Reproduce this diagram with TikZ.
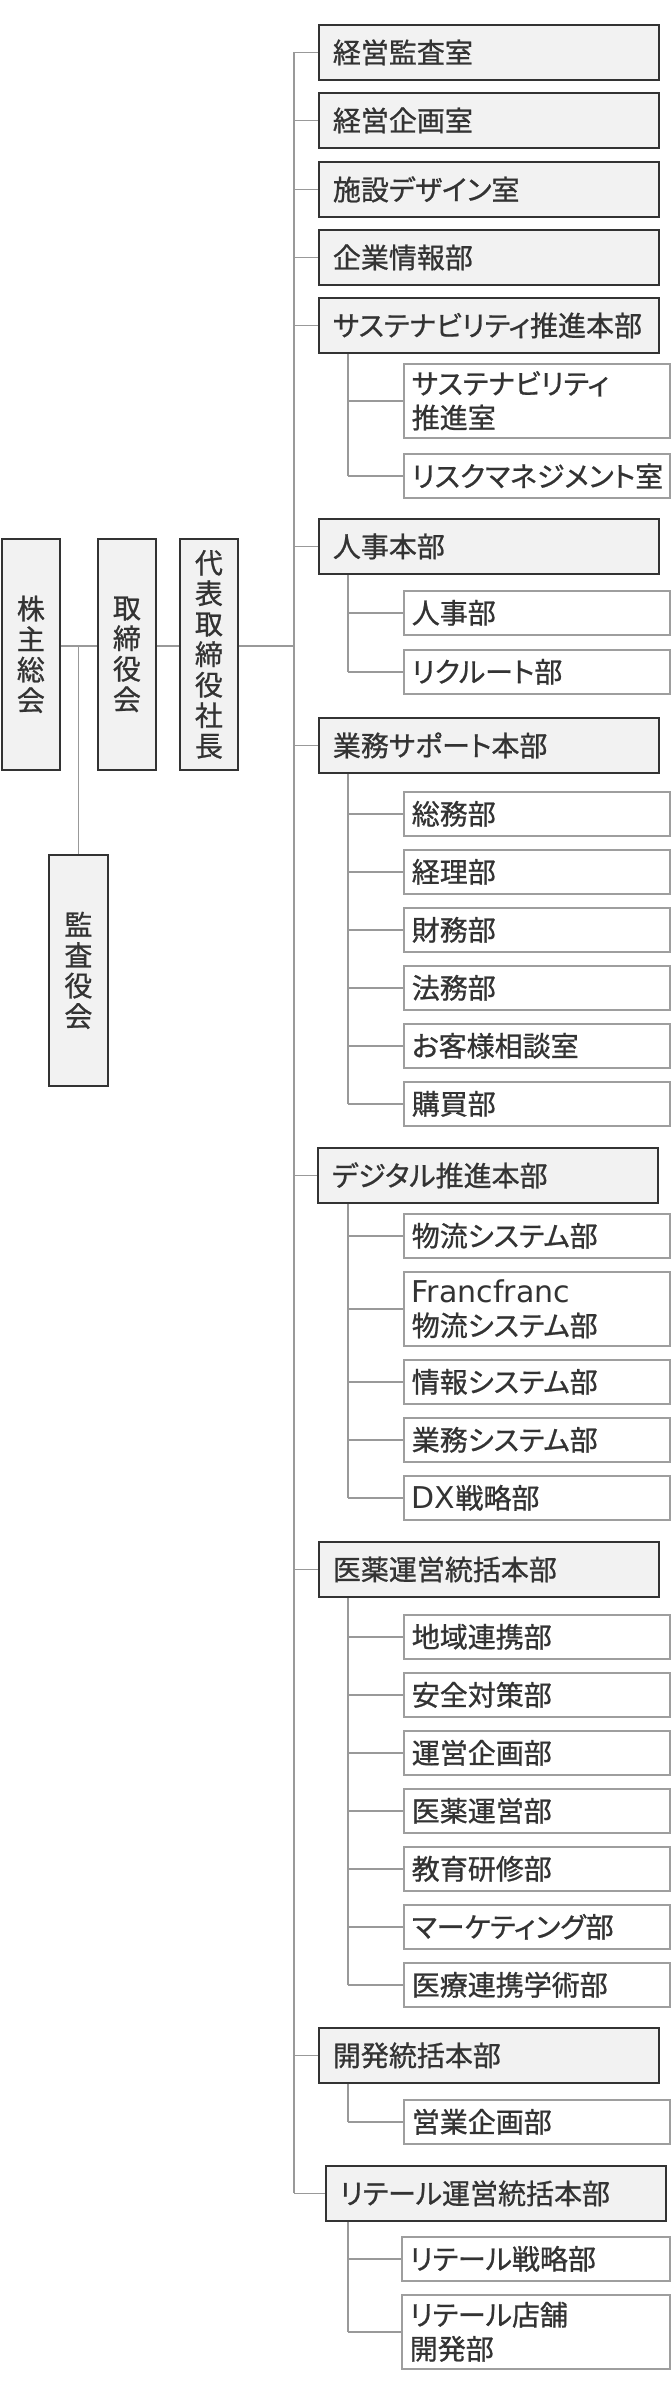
\documentclass[tikz,border=0pt]{standalone}
\usepackage{fontspec}
\newfontfamily\jp[RawFeature=+palt, FakeBold=0.8]{Noto Sans CJK JP}
\newfontfamily\lat{DejaVu Sans}
\newcommand{\latin}[1]{{\lat\fontsize{30}{34}\selectfont #1}}
\definecolor{ink}{HTML}{333333}
\definecolor{boxfill}{HTML}{F2F2F2}
\definecolor{linegray}{HTML}{999999}
\definecolor{subedge}{HTML}{9E9E9E}
\tikzset{
 base/.style={anchor=north west, inner ysep=0pt, text=ink, font=\jp\fontsize{28}{34}\selectfont},
 mainbox/.style={base, draw=ink, line width=1.8pt, fill=boxfill, inner xsep=14pt, text width=312pt, minimum height=55pt, align=left},
 subbox/.style={base, draw=subedge, line width=1.6pt, fill=white, inner xsep=8pt, text width=250pt, minimum height=44pt, align=left},
 tallsub/.style={subbox, minimum height=74pt},
 vbox/.style={base, draw=ink, line width=1.8pt, fill=boxfill, inner xsep=0pt, text width=58pt, minimum height=231pt, align=center, font=\jp\fontsize{28}{30.5}\selectfont},
 conn/.style={draw=linegray, line width=1.5pt},
}
\begin{document}
\begin{tikzpicture}[x=1pt,y=-1pt]
\useasboundingbox (0,0) rectangle (670,2400);
\fill[white] (0,0) rectangle (670,2400);
\coordinate (tr) at (294,0);
\coordinate (st) at (348,0);
\coordinate (cy) at (0,646);
% left column
\node[vbox] (kabu) at (1,538) {株\\主\\総\\会};
\node[vbox] (tori) at (97,538) {取\\締\\役\\会};
\node[vbox] (ceo) at (179,538) {代\\表\\取\\締\\役\\社\\長};
\node[vbox, text width=59pt] (kansa) at (48,854) {監\\査\\役\\会};
% main boxes
\node[mainbox] (m1) at (318,24) {経営監査室};
\node[mainbox] (m2) at (318,92) {経営企画室};
\node[mainbox] (m3) at (318,161) {施設デザイン室};
\node[mainbox] (m4) at (318,229) {企業情報部};
\node[mainbox] (m5) at (318,297) {サステナビリティ推進本部};
\node[tallsub] (s5a) at (403,363) {サステナビリティ\\推進室};
\node[subbox] (s5b) at (403,453) {リスクマネジメント室};
\node[mainbox] (m6) at (318,518) {人事本部};
\node[subbox] (s6a) at (403,590) {人事部};
\node[subbox] (s6b) at (403,649) {リクルート部};
\node[mainbox] (m7) at (318,717) {業務サポート本部};
\node[subbox] (s7a) at (403,791) {総務部};
\node[subbox] (s7b) at (403,849) {経理部};
\node[subbox] (s7c) at (403,907) {財務部};
\node[subbox] (s7d) at (403,965) {法務部};
\node[subbox] (s7e) at (403,1023) {お客様相談室};
\node[subbox] (s7f) at (403,1081) {購買部};
\node[mainbox] (m8) at (317,1147) {デジタル推進本部};
\node[subbox] (s8a) at (403,1213) {物流システム部};
\node[tallsub] (s8b) at (403,1271) {\latin{Francfranc}\\物流システム部};
\node[subbox] (s8c) at (403,1359) {情報システム部};
\node[subbox] (s8d) at (403,1417) {業務システム部};
\node[subbox] (s8e) at (403,1475) {\latin{DX}戦略部};
\node[mainbox] (m9) at (318,1541) {医薬運営統括本部};
\node[subbox] (s9a) at (403,1614) {地域連携部};
\node[subbox] (s9b) at (403,1672) {安全対策部};
\node[subbox] (s9c) at (403,1730) {運営企画部};
\node[subbox] (s9d) at (403,1788) {医薬運営部};
\node[subbox] (s9e) at (403,1846) {教育研修部};
\node[subbox] (s9f) at (403,1904) {マーケティング部};
\node[subbox] (s9g) at (403,1962) {医療連携学術部};
\node[mainbox] (m10) at (318,2027) {開発統括本部};
\node[subbox] (s10a) at (403,2099) {営業企画部};
\node[mainbox] (m11) at (325,2165) {リテール運営統括本部};
\node[subbox, text width=252pt] (s11a) at (401,2236) {リテール戦略部};
\node[tallsub, text width=252pt] (s11b) at (401,2294) {リテール店舗\\開発部};
% left connectors
\draw[conn] (kabu.east |- cy) -- (tori.west |- cy);
\draw[conn] (tori.east |- cy) -- (ceo.west |- cy);
\draw[conn] (ceo.east |- cy) -- (tr |- cy);
\draw[conn] (kansa.north |- cy) -- (kansa.north);
% trunk
\draw[conn] (tr |- m1.west) -- (tr |- m11.west);
\foreach \m in {m1,m2,m3,m4,m5,m6,m7,m8,m9,m10,m11}
  \draw[conn] (tr |- \m.west) -- (\m.west);
% sub trunks
\draw[conn] (st |- m5.south) -- (st |- s5b.west);
\foreach \s in {s5a,s5b} \draw[conn] (st |- \s.west) -- (\s.west);
\draw[conn] (st |- m6.south) -- (st |- s6b.west);
\foreach \s in {s6a,s6b} \draw[conn] (st |- \s.west) -- (\s.west);
\draw[conn] (st |- m7.south) -- (st |- s7f.west);
\foreach \s in {s7a,s7b,s7c,s7d,s7e,s7f} \draw[conn] (st |- \s.west) -- (\s.west);
\draw[conn] (st |- m8.south) -- (st |- s8e.west);
\foreach \s in {s8a,s8b,s8c,s8d,s8e} \draw[conn] (st |- \s.west) -- (\s.west);
\draw[conn] (st |- m9.south) -- (st |- s9g.west);
\foreach \s in {s9a,s9b,s9c,s9d,s9e,s9f,s9g} \draw[conn] (st |- \s.west) -- (\s.west);
\draw[conn] (st |- m10.south) -- (st |- s10a.west);
\draw[conn] (st |- s10a.west) -- (s10a.west);
\draw[conn] (st |- m11.south) -- (st |- s11b.west);
\foreach \s in {s11a,s11b} \draw[conn] (st |- \s.west) -- (\s.west);
\end{tikzpicture}
\end{document}
